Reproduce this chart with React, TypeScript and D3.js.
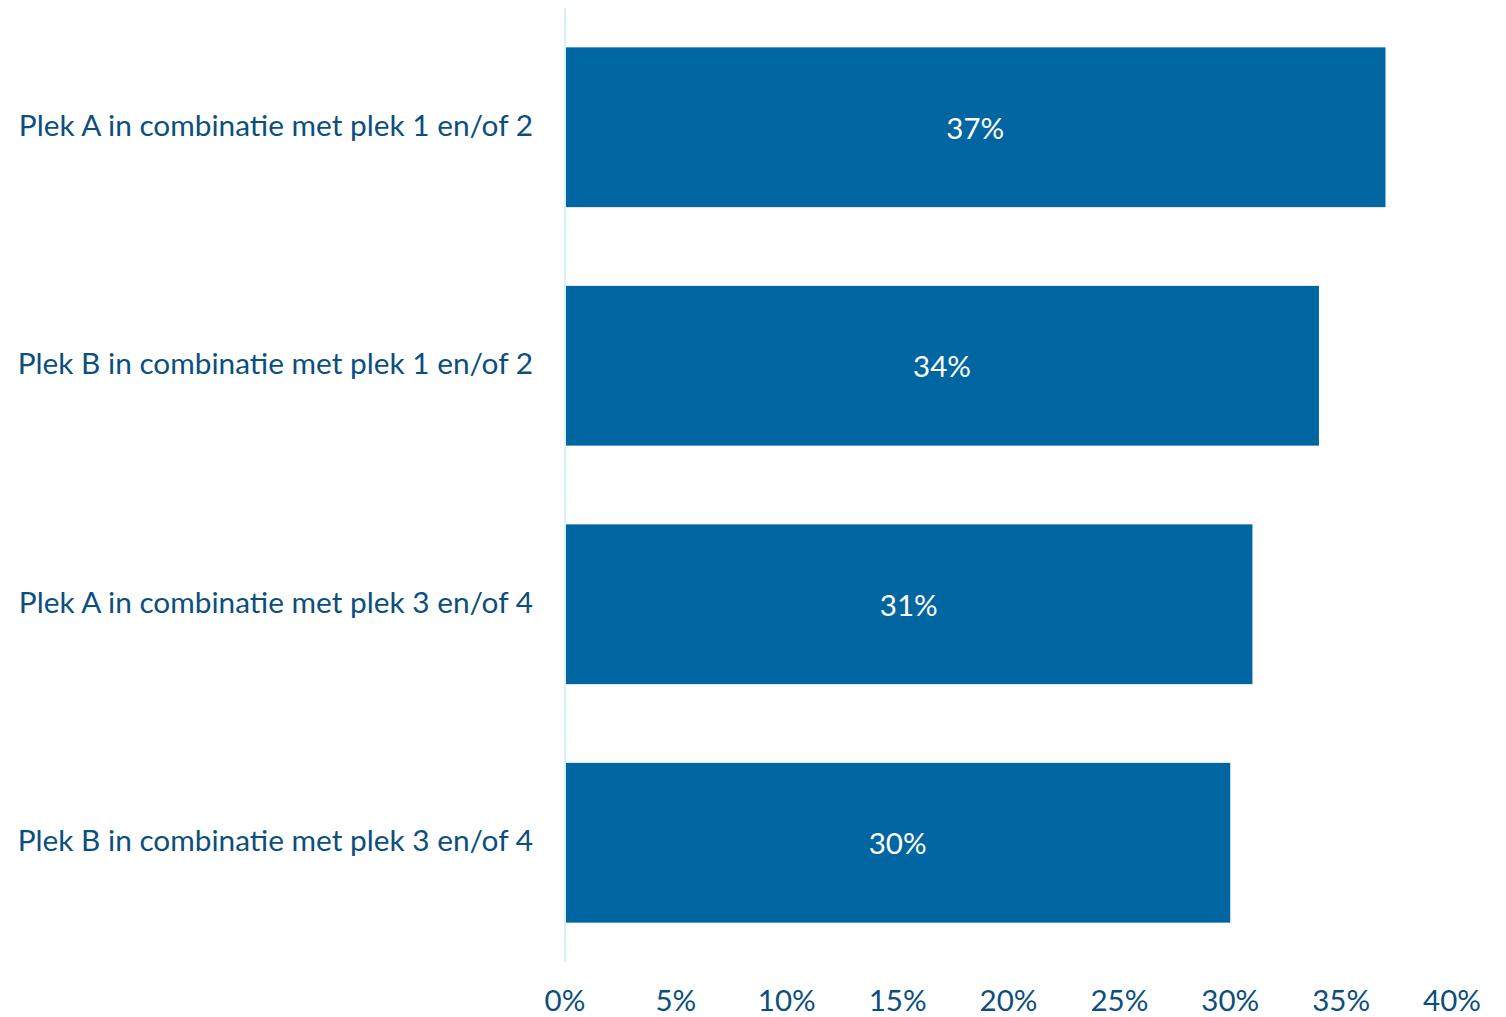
import React from "react";
import * as d3 from "d3";

const categories = [
  "Plek A in combinatie met plek 1 en/of 2",
  "Plek B in combinatie met plek 1 en/of 2",
  "Plek A in combinatie met plek 3 en/of 4",
  "Plek B in combinatie met plek 3 en/of 4",
];
const values = [0.37, 0.34, 0.31, 0.30];
const ticks = [0, 0.05, 0.1, 0.15, 0.2, 0.25, 0.3, 0.35, 0.4];

const W = 1506;
const H = 1017;
const FONT = "Lato, 'Noto Sans', sans-serif";

export default function App() {
  const x = d3.scaleLinear().domain([0, 0.4]).range([565, 1452]);
  const y = d3
    .scaleBand<string>()
    .domain(categories)
    .range([8, 962])
    .paddingInner(0.33)
    .paddingOuter(0.165);
  const fmt = d3.format(".0%");
  return (
    <div style={{ position: "absolute", left: 0, top: 0 }}>
      <svg width={W} height={H} style={{ display: "block", background: "#fff" }}>
        <line x1={x(0)} x2={x(0)} y1={8} y2={962} stroke="#d6f1fc" strokeWidth={2} />
        {categories.map((c, i) => {
          const y0 = y(c)!;
          const bw = y.bandwidth();
          return (
            <g key={c}>
              <rect x={x(0) + 1} y={y0} width={x(values[i]) - x(0) - 1} height={bw} fill="#0066a1" />
              <text
                x={(x(0) + x(values[i])) / 2}
                y={y0 + bw / 2 + 1}
                dy="0.35em"
                textAnchor="middle"
                fill="#ffffff"
                fontFamily={FONT}
                fontSize={29.5}
              >
                {fmt(values[i])}
              </text>
              <text
                x={533}
                y={y0 + bw / 2 - 2}
                dy="0.35em"
                textAnchor="end"
                fill="#0b4f7e"
                fontFamily={FONT}
                fontSize={29.8}
              >
                {c}
              </text>
            </g>
          );
        })}
        {ticks.map((t) => (
          <text
            key={t}
            x={x(t)}
            y={1011}
            textAnchor="middle"
            fill="#0b4f7e"
            fontFamily={FONT}
            fontSize={29.5}
          >
            {fmt(t)}
          </text>
        ))}
      </svg>
    </div>
  );
}
